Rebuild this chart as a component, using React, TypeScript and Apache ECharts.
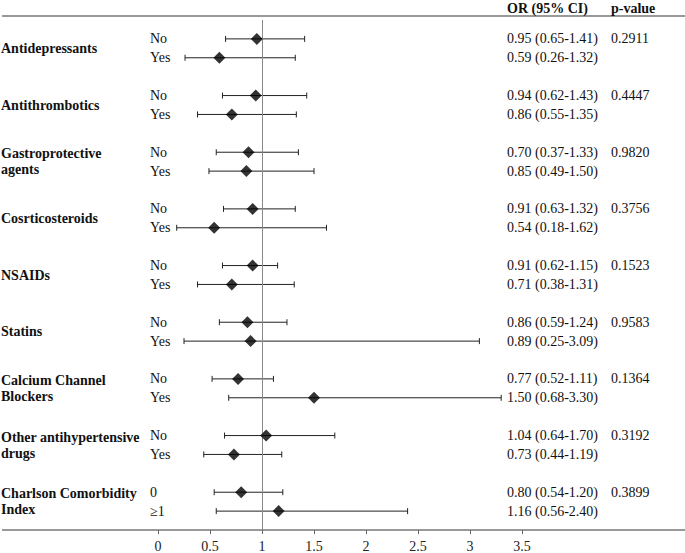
import React, { useEffect, useRef } from "react";
import * as echarts from "echarts";

const FONT = '"Liberation Serif", "Times New Roman", serif';

const groups = [
  "Antidepressants",
  "Antithrombotics",
  "Gastroprotective\nagents",
  "Cosrticosteroids",
  "NSAIDs",
  "Statins",
  "Calcium Channel\nBlockers",
  "Other antihypertensive\ndrugs",
  "Charlson Comorbidity\nIndex",
];

const subLabels = [
  ["No", "Yes"], ["No", "Yes"], ["No", "Yes"], ["No", "Yes"], ["No", "Yes"],
  ["No", "Yes"], ["No", "Yes"], ["No", "Yes"], ["0", "≥1"],
];

const orTexts = [
  ["0.95 (0.65-1.41)", "0.59 (0.26-1.32)"],
  ["0.94 (0.62-1.43)", "0.86 (0.55-1.35)"],
  ["0.70 (0.37-1.33)", "0.85 (0.49-1.50)"],
  ["0.91 (0.63-1.32)", "0.54 (0.18-1.62)"],
  ["0.91 (0.62-1.15)", "0.71 (0.38-1.31)"],
  ["0.86 (0.59-1.24)", "0.89 (0.25-3.09)"],
  ["0.77 (0.52-1.11)", "1.50 (0.68-3.30)"],
  ["1.04 (0.64-1.70)", "0.73 (0.44-1.19)"],
  ["0.80 (0.54-1.20)", "1.16 (0.56-2.40)"],
];

const pValues = ["0.2911", "0.4447", "0.9820", "0.3756", "0.1523", "0.9583", "0.1364", "0.3192", "0.3899"];

// Plotted values as drawn in the figure (No/Yes per group)
const plotOR = [
  [0.95, 0.59], [0.94, 0.71], [0.87, 0.85], [0.91, 0.54], [0.91, 0.71],
  [0.86, 0.89], [0.77, 1.5], [1.04, 0.73], [0.8, 1.16],
];
const plotLow = [
  [0.65, 0.26], [0.62, 0.38], [0.56, 0.49], [0.63, 0.18], [0.62, 0.38],
  [0.59, 0.25], [0.52, 0.68], [0.64, 0.44], [0.54, 0.56],
];
const plotHigh = [
  [1.41, 1.32], [1.43, 1.33], [1.35, 1.5], [1.32, 1.62], [1.15, 1.31],
  [1.24, 3.09], [1.11, 3.3], [1.7, 1.19], [1.2, 2.4],
];

const xTicks = { min: 0, max: 3.5, interval: 0.5 };

export default function App() {
  const ref = useRef<HTMLDivElement>(null);
  useEffect(() => {
    if (!ref.current) return;
    const chart = echarts.init(ref.current, null, { renderer: "svg" });

    const scatterData: number[][] = [];
    const barData: number[][] = [];
    plotOR.forEach((pair, g) => {
      pair.forEach((v, r) => {
        const row = g * 3 + r;
        scatterData.push([v, row]);
        barData.push([row, plotLow[g][r], plotHigh[g][r]]);
      });
    });
    const labelData = groups.map((_, g) => [1, g]);

    const option: any = {
      animation: false,
      grid: { left: 158, width: 364, top: 20, height: 510 },
      xAxis: {
        type: "value",
        position: "bottom",
        min: xTicks.min,
        max: xTicks.max,
        interval: xTicks.interval,
        axisLine: { show: false, onZero: false },
        axisTick: { show: true, length: 4, lineStyle: { color: "#666" } },
        splitLine: { show: false },
        axisLabel: { fontFamily: FONT, fontSize: 14, color: "#222", margin: 9 },
      },
      yAxis: {
        type: "value",
        min: -1,
        max: 26,
        inverse: true,
        show: false,
        splitLine: { show: false },
      },
      graphic: [
        { type: "line", shape: { x1: 2, y1: 16, x2: 685, y2: 16 }, style: { stroke: "#777", lineWidth: 1.5 } },
        { type: "line", shape: { x1: 2, y1: 530, x2: 685, y2: 530 }, style: { stroke: "#777", lineWidth: 1.5 } },
        { type: "text", x: 507, y: 8, style: { text: "OR (95% CI)", font: `bold 14px ${FONT}`, fill: "#111", verticalAlign: "middle" } },
        { type: "text", x: 611, y: 8, style: { text: "p-value", font: `bold 14px ${FONT}`, fill: "#111", verticalAlign: "middle" } },
      ],
      series: [
        {
          type: "custom",
          clip: false,
          encode: { x: [1, 2], y: 0 },
          data: barData,
          renderItem: (params: any, api: any) => {
            const row = api.value(0);
            const p1 = api.coord([api.value(1), row]);
            const p2 = api.coord([api.value(2), row]);
            const st = { stroke: "#222", lineWidth: 1 };
            return {
              type: "group",
              children: [
                { type: "line", shape: { x1: p1[0], y1: p1[1], x2: p2[0], y2: p2[1] }, style: st },
                { type: "line", shape: { x1: p1[0], y1: p1[1] - 3, x2: p1[0], y2: p1[1] + 3 }, style: st },
                { type: "line", shape: { x1: p2[0], y1: p2[1] - 3, x2: p2[0], y2: p2[1] + 3 }, style: st },
              ],
            };
          },
        },
        {
          type: "scatter",
          data: scatterData,
          symbol: "diamond",
          symbolSize: [12, 12],
          itemStyle: { color: "#000" },
          z: 5,
          markLine: {
            silent: true,
            symbol: "none",
            label: { show: false },
            lineStyle: { color: "#888", type: "solid", width: 1 },
            data: [{ xAxis: 1 }],
          },
        },
        {
          type: "custom",
          clip: false,
          encode: { x: 0, y: 1 },
          data: labelData,
          renderItem: (params: any, api: any) => {
            const g = api.value(1);
            const y0 = api.coord([0, g * 3])[1];
            const y1 = api.coord([0, g * 3 + 1])[1];
            const reg = `14px ${FONT}`;
            const mk = (x: number, y: number, text: string, font: string) => ({
              type: "text",
              style: { x, y, text, font, fill: "#111", verticalAlign: "middle", align: "left", lineHeight: 16 },
            });
            return {
              type: "group",
              children: [
                mk(1, (y0 + y1) / 2, groups[g], `bold 14px ${FONT}`),
                mk(150, y0, subLabels[g][0], reg),
                mk(150, y1, subLabels[g][1], reg),
                mk(507, y0, orTexts[g][0], reg),
                mk(507, y1, orTexts[g][1], reg),
                mk(611, y0, pValues[g], reg),
              ],
            };
          },
        },
      ],
    };
    chart.setOption(option);
    return () => chart.dispose();
  }, []);
  return (
    <div
      ref={ref}
      style={{ position: "fixed", left: 0, top: 0, width: 685, height: 553, background: "#fff" }}
    />
  );
}
